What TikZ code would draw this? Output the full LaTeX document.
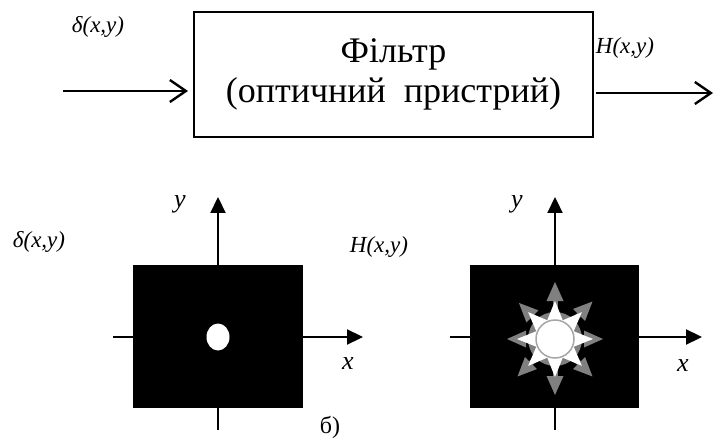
\documentclass[tikz,border=0pt]{standalone}
\usepackage{fontspec}
\setmainfont{Liberation Serif}
\usetikzlibrary{arrows.meta,calc}
\begin{document}
\begin{tikzpicture}[x=1pt,y=-1pt,line width=2.2pt,
  lbl/.style={font=\fontsize{23}{26}\selectfont\itshape,inner sep=0pt},
  axlbl/.style={font=\fontsize{26}{28}\selectfont\itshape,inner sep=0pt},
  ulbl/.style={font=\fontsize{24}{26}\selectfont,inner sep=0pt},
  axis/.style={-{Triangle[length=16pt,width=15pt]},line width=2.2pt},
  flow/.style={-{Straight Barb[length=16pt,width=22pt]},line width=2.4pt},
  filterbox/.style={draw,line width=2.2pt,minimum width=399pt,minimum height=125pt,inner sep=0pt,align=center,font=\fontsize{36}{40}\selectfont},
  grayc/.style={fill=gray},
  spike/.style={fill=white}]
\useasboundingbox (0,0) rectangle (714,438);
% ---- top block diagram
\node[filterbox] (filter) at (393.5,74.5) {Фільтр\\(оптичний\ \ пристрий)};
\coordinate (inA) at (63,91);
\coordinate (inB) at (188,91);
\coordinate (outA) at (596,93);
\coordinate (outB) at (713,93);
\draw[flow] (inA) -- (inB);
\draw[flow] (outA) -- (outB);
\node[lbl] (din) at (98,27) {δ(x,y)};
\node[lbl] (hout) at (625,48) {H(x,y)};
% ---- bottom left
\draw[axis] (113,337) -- (363,337);
\draw[axis] (218,430) -- (218,197);
\fill (133,265) rectangle (303,408);
\fill[white] (218,337) ellipse [x radius=11.5pt,y radius=13.5pt];
\node[axlbl] (yl1) at (180,204) {y};
\node[axlbl] (xl1) at (348,364) {x};
\node[lbl] (dl) at (39,242) {δ(x,y)};
\node[lbl] (hl) at (379,247) {H(x,y)};
\node[ulbl] (bl) at (330,427) {б)};
% ---- bottom right
\draw[axis] (450,337) -- (702,337);
\draw[axis] (555,430) -- (555,197);
\fill (470,265) rectangle (639,408);
\node[axlbl] (yl2) at (517,204) {y};
\node[axlbl] (xl2) at (683,366) {x};
\begin{scope}[shift={(555,339)}]
  \fill[grayc] (0,0) circle (27pt);
  \foreach \a/\r in {0/48,45/53,90/56,135/53,180/48,225/51,270/57,315/53}{
    \draw[gray,line width=5pt] (\a:18) -- (\a:\r-14);
    \fill[grayc] (\a:\r) -- ($(\a:\r-19)+(\a+90:8.5)$) -- ($(\a:\r-19)+(\a-90:8.5)$) -- cycle;
  }
  \foreach \a in {0,45,...,315}
    \fill[spike] ($(\a+30:18)$) -- (\a:38) -- ($(\a-30:18)$) -- cycle;
  \draw[draw=gray!70,line width=1.5pt,fill=white] (0,0) circle (19pt);
\end{scope}
\end{tikzpicture}
\end{document}
